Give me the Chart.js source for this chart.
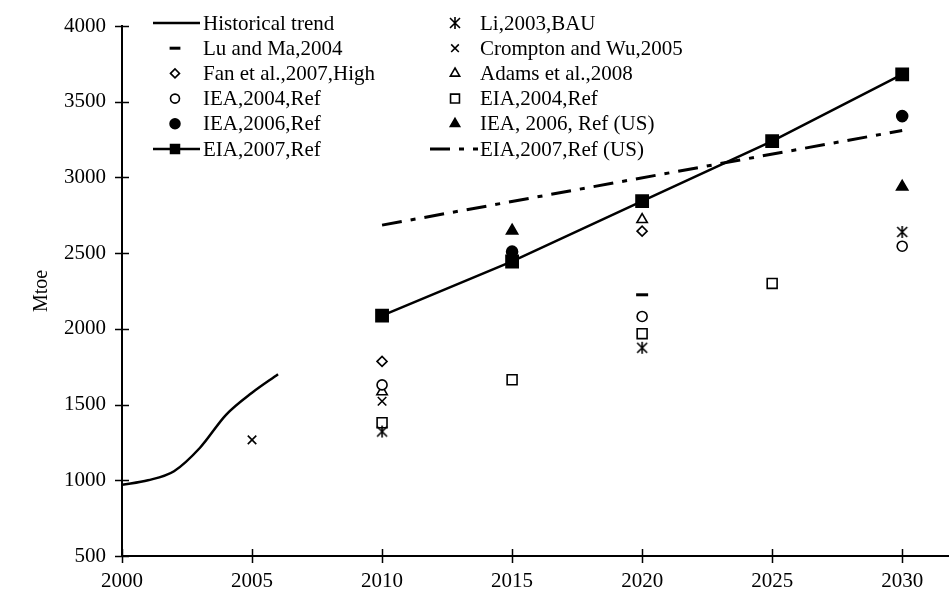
<!DOCTYPE html>
<html>
<head>
<meta charset="utf-8">
<script src="https://cdn.jsdelivr.net/npm/chart.js@4.4.1/dist/chart.umd.min.js"></script>
<style>
  html, body { margin: 0; padding: 0; background: #fff; overflow: hidden; }
  #wrap { width: 949px; height: 594px; position: relative; }
  #chart { display: block; }
</style>
</head>
<body>
<div id="wrap"><canvas id="chart"></canvas></div>
<script>
// tick labels
const xTicks = [2000, 2005, 2010, 2015, 2020, 2025, 2030];
const yTicks = [500, 1000, 1500, 2000, 2500, 3000, 3500, 4000];

// series (year / Mtoe)
const histYears = [2000, 2001, 2002, 2003, 2004, 2005, 2006];
const histValues = [970, 1000, 1060, 1215, 1432, 1578, 1700];
const luMaYears = [2020];
const luMaValues = [2225];
const fanYears = [2010, 2020];
const fanValues = [1785, 2645];
const iea04Years = [2010, 2020, 2030];
const iea04Values = [1630, 2082, 2546];
const iea06Years = [2015, 2030];
const iea06Values = [2510, 3405];
const eia07Years = [2010, 2015, 2020, 2025, 2030];
const eia07Values = [2087, 2445, 2843, 3240, 3681];
const liYears = [2010, 2020, 2030];
const liValues = [1322, 1875, 2640];
const cromptonYears = [2005, 2010];
const cromptonValues = [1267, 1522];
const adamsYears = [2010, 2020];
const adamsValues = [1585, 2722];
const eia04Years = [2010, 2015, 2020, 2025];
const eia04Values = [1380, 1664, 1968, 2300];
const iea06usYears = [2015, 2030];
const iea06usValues = [2648, 2938];
const eia07usYears = [2010, 2030];
const eia07usValues = [2685, 3310];

const FONT = "'Liberation Serif', 'Times New Roman', serif";

function pts(xs, ys) {
    return xs.map((x, i) => ({ x: x, y: ys[i] }));
}

// asterisk marker: an x with a vertical stroke
function asteriskMarker() {
    const c = document.createElement('canvas');
    c.width = 14; c.height = 14;
    const g = c.getContext('2d');
    g.strokeStyle = '#000';
    g.lineWidth = 1.6;
    g.beginPath();
    g.moveTo(2, 2); g.lineTo(12, 12);
    g.moveTo(12, 2); g.lineTo(2, 12);
    g.moveTo(7, 1); g.lineTo(7, 13);
    g.stroke();
    return c;
}
const asterisk = asteriskMarker();

function markerSet(label, xs, ys, style, radius, filled, extra) {
    return Object.assign({
        label: label,
        data: pts(xs, ys),
        showLine: false,
        pointStyle: style,
        pointRadius: radius,
        pointHoverRadius: radius,
        pointBorderWidth: 1.6,
        borderColor: '#000',
        backgroundColor: filled ? '#000' : '#fff',
        pointBorderColor: '#000',
        pointBackgroundColor: filled ? '#000' : '#fff'
    }, extra || {});
}

const datasets = [
    {
        label: 'Historical trend',
        data: pts(histYears, histValues),
        showLine: true,
        borderColor: '#000',
        borderWidth: 2.5,
        pointRadius: 0,
        cubicInterpolationMode: 'monotone'
    },
    markerSet('Lu and Ma,2004', luMaYears, luMaValues, 'line', 6, true, { pointBorderWidth: 3 }),
    markerSet('Fan et al.,2007,High', fanYears, fanValues, 'rectRot', 5, false),
    markerSet('IEA,2004,Ref', iea04Years, iea04Values, 'circle', 5, false),
    markerSet('IEA,2006,Ref', iea06Years, iea06Values, 'circle', 5.5, true),
    {
        label: 'EIA,2007,Ref',
        data: pts(eia07Years, eia07Values),
        showLine: true,
        borderColor: '#000',
        borderWidth: 2.5,
        pointStyle: 'rect',
        pointRadius: 8,
        pointHoverRadius: 8,
        pointBorderColor: '#000',
        pointBackgroundColor: '#000',
        backgroundColor: '#000'
    },
    markerSet('Li,2003,BAU', liYears, liValues, asterisk, 7, false),
    markerSet('Crompton and Wu,2005', cromptonYears, cromptonValues, 'crossRot', 6, false),
    markerSet('Adams et al.,2008', adamsYears, adamsValues, 'triangle', 6, false),
    markerSet('EIA,2004,Ref', eia04Years, eia04Values, 'rect', 7, false),
    markerSet('IEA, 2006, Ref (US)', iea06usYears, iea06usValues, 'triangle', 6.5, true),
    {
        label: 'EIA,2007,Ref (US)',
        data: pts(eia07usYears, eia07usValues),
        showLine: true,
        borderColor: '#000',
        borderWidth: 3,
        borderDash: [20, 9, 5, 9],
        pointRadius: 0
    }
];

// crossing tick marks + two-column legend
const decor = {
    id: 'decor',
    afterDraw(chart) {
        const ctx = chart.ctx;
        const xs = chart.scales.x, ys = chart.scales.y, a = chart.chartArea;
        ctx.save();
        ctx.strokeStyle = '#000';
        ctx.lineWidth = 1.5;
        ctx.beginPath();
        xTicks.forEach(v => {
            const px = Math.round(xs.getPixelForValue(v)) + 0.5;
            ctx.moveTo(px, a.bottom - 7); ctx.lineTo(px, a.bottom + 7);
        });
        yTicks.forEach(v => {
            const py = Math.round(ys.getPixelForValue(v)) + 0.5;
            ctx.moveTo(a.left - 7, py); ctx.lineTo(a.left + 7, py);
        });
        ctx.stroke();

        // legend
        ctx.font = '21px ' + FONT;
        ctx.textBaseline = 'middle';
        ctx.fillStyle = '#000';
        chart.data.datasets.forEach((ds, i) => {
            const col = i < 6 ? 0 : 1;
            const row = i % 6;
            const y = 23 + row * 25.2;
            const cx = col === 0 ? 175 : 455;
            const tx = col === 0 ? 203 : 480;
            if (ds.showLine) {
                ctx.save();
                ctx.lineWidth = ds.borderWidth;
                ctx.setLineDash(ds.borderDash || []);
                ctx.beginPath();
                if (ds.borderDash) { ctx.moveTo(cx - 25, y); ctx.lineTo(cx + 23, y); }
                else { ctx.moveTo(cx - 22, y); ctx.lineTo(cx + 25, y); }
                ctx.stroke();
                ctx.restore();
            }
            if (ds.pointRadius > 0) {
                ctx.save();
                ctx.strokeStyle = '#000';
                ctx.fillStyle = ds.pointBackgroundColor;
                ctx.lineWidth = ds.pointBorderWidth || 1.6;
                Chart.helpers.drawPoint(ctx, {
                    pointStyle: ds.pointStyle,
                    radius: Math.min(ds.pointRadius, 6) * (ds.pointStyle === 'rect' ? 1.05 : 0.9),
                    rotation: 0,
                    borderWidth: ds.pointBorderWidth || 1.6
                }, cx, y);
                ctx.restore();
            }
            ctx.fillStyle = '#000';
            ctx.fillText(ds.label, tx, y + 1);
        });
        ctx.restore();
    }
};

const ctx = document.getElementById('chart').getContext('2d');
new Chart(ctx, {
    type: 'scatter',
    data: { datasets: datasets },
    options: {
        responsive: true,
        maintainAspectRatio: false,
        animation: false,
        layout: { autoPadding: false, padding: { top: 26, right: 0, left: 0, bottom: 0 } },
        plugins: {
            legend: { display: false },
            tooltip: { enabled: false }
        },
        scales: {
            x: {
                type: 'linear',
                min: 2000,
                max: 2031.8,
                afterFit: s => { s.height = 38; s.paddingLeft = 0; s.paddingRight = 0; },
                afterBuildTicks: s => { s.ticks = xTicks.map(v => ({ value: v })); },
                grid: { display: false, drawTicks: false },
                border: { display: true, color: '#000', width: 2 },
                ticks: {
                    color: '#000',
                    padding: 13,
                    maxRotation: 0,
                    font: { family: FONT, size: 21 },
                    callback: v => String(v)
                }
            },
            y: {
                type: 'linear',
                min: 500,
                max: 4000,
                afterFit: s => { s.width = 122; s.paddingTop = 0; s.paddingBottom = 0; },
                afterBuildTicks: s => { s.ticks = yTicks.map(v => ({ value: v })); },
                grid: { display: false, drawTicks: false },
                border: { display: true, color: '#000', width: 2 },
                title: {
                    display: true,
                    text: 'Mtoe',
                    color: '#000',
                    padding: { top: 30, bottom: 0 },
                    font: { family: FONT, size: 20 }
                },
                ticks: {
                    color: '#000',
                    padding: 16,
                    font: { family: FONT, size: 21 },
                    callback: v => String(v)
                }
            }
        }
    },
    plugins: [decor]
});
</script>
</body>
</html>
